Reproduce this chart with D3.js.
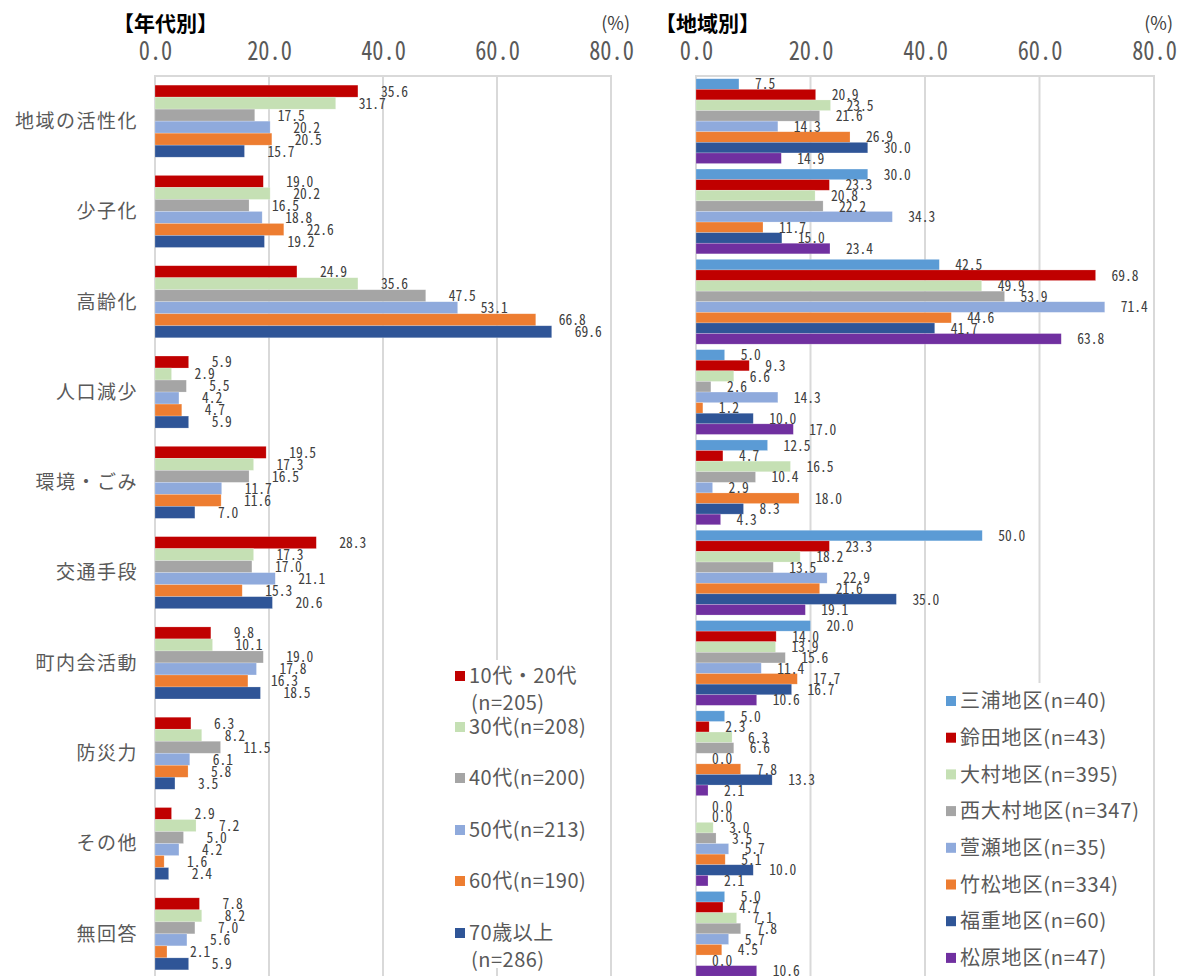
<!DOCTYPE html>
<html>
<head>
<meta charset="utf-8">
<script src="https://cdn.jsdelivr.net/npm/d3@7"></script>
<style>
  html, body { margin: 0; padding: 0; background: #ffffff; }
  svg { display: block; }
</style>
</head>
<body>
<svg id="chart" width="1179" height="976"></svg>
<script>
// ---------- DATA ----------
const categories = ["地域の活性化", "少子化", "高齢化", "人口減少", "環境・ごみ", "交通手段", "町内会活動", "防災力", "その他", "無回答"];
const xTicks = [0, 20, 40, 60, 80];

const ageSeries = ["10代・20代(n=205)", "30代(n=208)", "40代(n=200)", "50代(n=213)", "60代(n=190)", "70歳以上(n=286)"];
const ageLegendLines = [["10代・20代", "(n=205)"], ["30代(n=208)"], ["40代(n=200)"], ["50代(n=213)"], ["60代(n=190)"], ["70歳以上", "(n=286)"]];
const ageColors = ["#C00000", "#C5E0B4", "#A5A5A5", "#8FAADC", "#ED7D31", "#2F5597"];
const ageValues = [
  [35.6, 31.7, 17.5, 20.2, 20.5, 15.7],
  [19.0, 20.2, 16.5, 18.8, 22.6, 19.2],
  [24.9, 35.6, 47.5, 53.1, 66.8, 69.6],
  [5.9, 2.9, 5.5, 4.2, 4.7, 5.9],
  [19.5, 17.3, 16.5, 11.7, 11.6, 7.0],
  [28.3, 17.3, 17.0, 21.1, 15.3, 20.6],
  [9.8, 10.1, 19.0, 17.8, 16.3, 18.5],
  [6.3, 8.2, 11.5, 6.1, 5.8, 3.5],
  [2.9, 7.2, 5.0, 4.2, 1.6, 2.4],
  [7.8, 8.2, 7.0, 5.6, 2.1, 5.9]
];

const areaSeries = ["三浦地区(n=40)", "鈴田地区(n=43)", "大村地区(n=395)", "西大村地区(n=347)", "萱瀬地区(n=35)", "竹松地区(n=334)", "福重地区(n=60)", "松原地区(n=47)"];
const areaColors = ["#5B9BD5", "#C00000", "#C5E0B4", "#A5A5A5", "#8FAADC", "#ED7D31", "#2F5597", "#7030A0"];
const areaValues = [
  [7.5, 20.9, 23.5, 21.6, 14.3, 26.9, 30.0, 14.9],
  [30.0, 23.3, 20.8, 22.2, 34.3, 11.7, 15.0, 23.4],
  [42.5, 69.8, 49.9, 53.9, 71.4, 44.6, 41.7, 63.8],
  [5.0, 9.3, 6.6, 2.6, 14.3, 1.2, 10.0, 17.0],
  [12.5, 4.7, 16.5, 10.4, 2.9, 18.0, 8.3, 4.3],
  [50.0, 23.3, 18.2, 13.5, 22.9, 21.6, 35.0, 19.1],
  [20.0, 14.0, 13.9, 15.6, 11.4, 17.7, 16.7, 10.6],
  [5.0, 2.3, 6.3, 6.6, 0.0, 7.8, 13.3, 2.1],
  [0.0, 0.0, 3.0, 3.5, 5.7, 5.1, 10.0, 2.1],
  [5.0, 4.7, 7.1, 7.8, 5.7, 4.5, 0.0, 10.6]
];

// ---------- DRAW ----------
const svg = d3.select("#chart");
const CJK = "'Noto Sans CJK JP', 'Noto Sans', sans-serif";
const MONO = "'Noto Sans Mono CJK JP', 'Liberation Mono', 'DejaVu Sans Mono', monospace";
const fmt = d3.format(".1f");
const plotTop = 76, plotBottom = 979;

function panel(opts) {
  const g = svg.append("g");
  const x = d3.scaleLinear().domain([0, 80]).range([opts.x0, opts.x1]);
  const y = d3.scaleBand().domain(categories).range([plotTop, plotBottom]).padding(0);
  const inner = d3.scaleBand().domain(opts.series).range([0, y.bandwidth()])
    .paddingInner(0).paddingOuter(opts.outerPad);

  // gridlines
  g.append("g").selectAll("line").data(xTicks.slice(1, -1)).join("line")
    .attr("x1", d => x(d)).attr("x2", d => x(d))
    .attr("y1", plotTop).attr("y2", plotBottom)
    .attr("stroke", "#d9d9d9").attr("stroke-width", 2);
  // plot frame
  g.append("rect").attr("x", opts.x0).attr("y", plotTop)
    .attr("width", opts.x1 - opts.x0).attr("height", plotBottom - plotTop)
    .attr("fill", "none").attr("stroke", "#d9d9d9").attr("stroke-width", 2);

  // top axis
  const axis = d3.axisTop(x).tickValues(xTicks).tickFormat(fmt).tickSize(0).tickPadding(0);
  const ag = g.append("g").attr("transform", `translate(0,60)`).call(axis);
  ag.select(".domain").remove();
  ag.selectAll("text").attr("font-family", MONO).attr("font-size", 26)
    .attr("fill", "#595959").attr("transform", "scale(0.86,1)");

  // bars
  const rows = [];
  categories.forEach((c, ci) => opts.series.forEach((s, si) => rows.push({c, s, si, v: opts.values[ci][si]})));
  g.append("g").selectAll("rect").data(rows).join("rect")
    .attr("x", x(0))
    .attr("y", d => y(d.c) + inner(d.s))
    .attr("width", d => x(d.v) - x(0))
    .attr("height", inner.bandwidth())
    .attr("fill", d => opts.colors[d.si])
    .attr("stroke", "#ffffff").attr("stroke-opacity", 0.35).attr("stroke-width", 0.6);

  // value labels
  g.append("g").selectAll("text").data(rows).join("text")
    .attr("transform", d => `translate(${x(d.v) + opts.labelOff},${y(d.c) + inner(d.s) + inner.bandwidth() / 2}) scale(0.9,1)`)
    .attr("dy", "0.36em")
    .attr("font-family", MONO).attr("font-size", 15)
    .attr("fill", "#404040")
    .text(d => fmt(d.v));

  // titles
  g.append("text").attr("x", opts.titleX).attr("y", 31)
    .attr("font-family", CJK).attr("font-size", 21).attr("font-weight", "bold")
    .attr("fill", "#000000").text(opts.title);
  g.append("text").attr("x", opts.x1 + 19).attr("y", 30).attr("text-anchor", "end")
    .attr("font-family", CJK).attr("font-size", 18).attr("fill", "#404040").text("(%)");

  return {g, x, y};
}

const left = panel({
  x0: 155, x1: 611, series: ageSeries, values: ageValues, colors: ageColors,
  outerPad: 0.76, labelOff: 23, title: "【年代別】", titleX: 113
});
const right = panel({
  x0: 696, x1: 1154, series: areaSeries, values: areaValues, colors: areaColors,
  outerPad: 0.26, labelOff: 16, title: "【地域別】", titleX: 655
});

// category labels (left panel)
left.g.append("g").selectAll("text").data(categories).join("text")
  .attr("x", 138)
  .attr("y", d => left.y(d) + left.y.bandwidth() / 2)
  .attr("dy", "0.36em")
  .attr("text-anchor", "end")
  .attr("font-family", CJK).attr("font-size", 19).attr("letter-spacing", "1.5px")
  .attr("fill", "#595959")
  .text(d => d);

// legend: age
const ageLegendY = [676, 727, 778, 830, 881, 933];
const lg = svg.append("g");
lg.append("rect").attr("x", 447).attr("y", 660).attr("width", 158).attr("height", 308).attr("fill", "#ffffff");
ageSeries.forEach((s, i) => {
  const yy = ageLegendY[i];
  lg.append("rect").attr("x", 455).attr("y", yy - 5).attr("width", 10).attr("height", 10).attr("fill", ageColors[i]);
  const t = lg.append("text").attr("x", 469).attr("y", yy)
    .attr("font-family", CJK).attr("font-size", 20).attr("letter-spacing", "0.5px").attr("fill", "#595959");
  ageLegendLines[i].forEach((line, li) => {
    t.append("tspan").attr("x", li === 0 ? 469 : 471).attr("dy", li === 0 ? "0.36em" : "27px").text(line);
  });
});

// legend: area
const rg = svg.append("g");
rg.append("rect").attr("x", 940).attr("y", 683).attr("width", 210).attr("height", 293).attr("fill", "#ffffff");
const areaLegendY = d3.range(areaSeries.length).map(i => 701 + i * 36.7);
areaSeries.forEach((s, i) => {
  const yy = areaLegendY[i];
  rg.append("rect").attr("x", 946).attr("y", yy - 5).attr("width", 10).attr("height", 10).attr("fill", areaColors[i]);
  rg.append("text").attr("x", 960).attr("y", yy).attr("dy", "0.36em")
    .attr("font-family", CJK).attr("font-size", 20).attr("letter-spacing", "0.8px").attr("fill", "#595959").text(s);
});
</script>
</body>
</html>
